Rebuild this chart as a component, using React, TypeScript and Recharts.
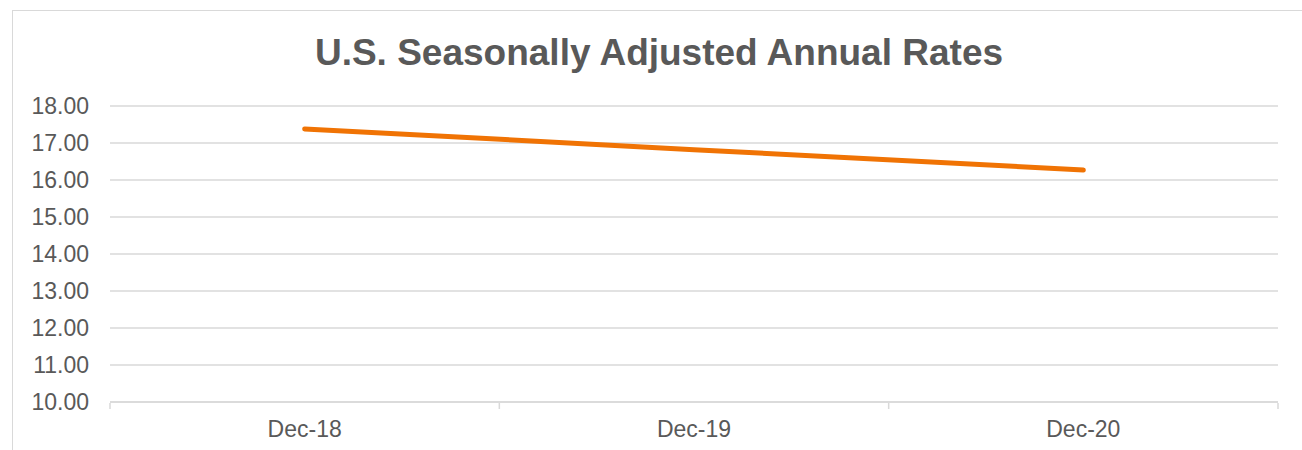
import React from "react";
import { LineChart, Line, XAxis, YAxis, CartesianGrid } from "recharts";

const periods = ["Dec-18", "Dec-19", "Dec-20"];
const rates = [17.38, 16.82, 16.27];
const yTicks = [10, 11, 12, 13, 14, 15, 16, 17, 18];
const bandEdges = [0, 1, 2, 3];

const data = periods.map((period, i) => ({ period, rate: rates[i], slot: i }));

const GRAY = "#d9d9d9";
const TEXT = "#595959";
const FONT = "'Liberation Sans', Arial, sans-serif";

export default function App() {
  return (
    <div
      style={{
        position: "absolute",
        left: 0,
        top: 0,
        width: 1302,
        height: 450,
        overflow: "hidden",
        background: "#fff",
        fontFamily: FONT,
      }}
    >
      <div
        style={{
          position: "absolute",
          left: 12,
          top: 10,
          width: 1400,
          height: 500,
          border: `1.5px solid ${GRAY}`,
        }}
      />
      <div
        style={{
          position: "absolute",
          left: 0,
          width: 1318,
          top: 30,
          textAlign: "center",
          fontSize: 37,
          fontWeight: "bold",
          color: TEXT,
          lineHeight: "46px",
        }}
      >
        U.S. Seasonally Adjusted Annual Rates
      </div>
      <div style={{ position: "absolute", left: 0, top: 0 }}>
        <LineChart
          width={1302}
          height={450}
          data={data}
          margin={{ top: 106, right: 24, left: 0, bottom: 46 }}
        >
          <CartesianGrid vertical={false} stroke={GRAY} strokeWidth={1.5} />
          <XAxis
            dataKey="period"
            scale="band"
            height={1}
            axisLine={{ stroke: GRAY, strokeWidth: 1.5 }}
            tickLine={false}
            tickSize={6}
            tickMargin={13}
            tick={{ fill: TEXT, fontSize: 23, fontFamily: FONT }}
          />
          <XAxis
            xAxisId="edges"
            dataKey="slot"
            type="number"
            domain={[0, 3]}
            allowDataOverflow
            ticks={bandEdges}
            interval={0}
            height={1}
            axisLine={false}
            tickLine={{ stroke: GRAY, strokeWidth: 1.5 }}
            tickSize={6}
            tick={() => <g />}
          />
          <YAxis
            width={110}
            domain={[10, 18]}
            ticks={yTicks}
            interval={0}
            axisLine={false}
            tickLine={false}
            tickSize={6}
            tickMargin={15}
            tickFormatter={(v: number) => v.toFixed(2)}
            tick={{ fill: TEXT, fontSize: 23, fontFamily: FONT }}
          />
          <Line
            type="linear"
            dataKey="rate"
            stroke="#F07304"
            strokeWidth={5}
            strokeLinecap="round"
            dot={false}
            activeDot={false}
            isAnimationActive={false}
          />
        </LineChart>
      </div>
    </div>
  );
}
